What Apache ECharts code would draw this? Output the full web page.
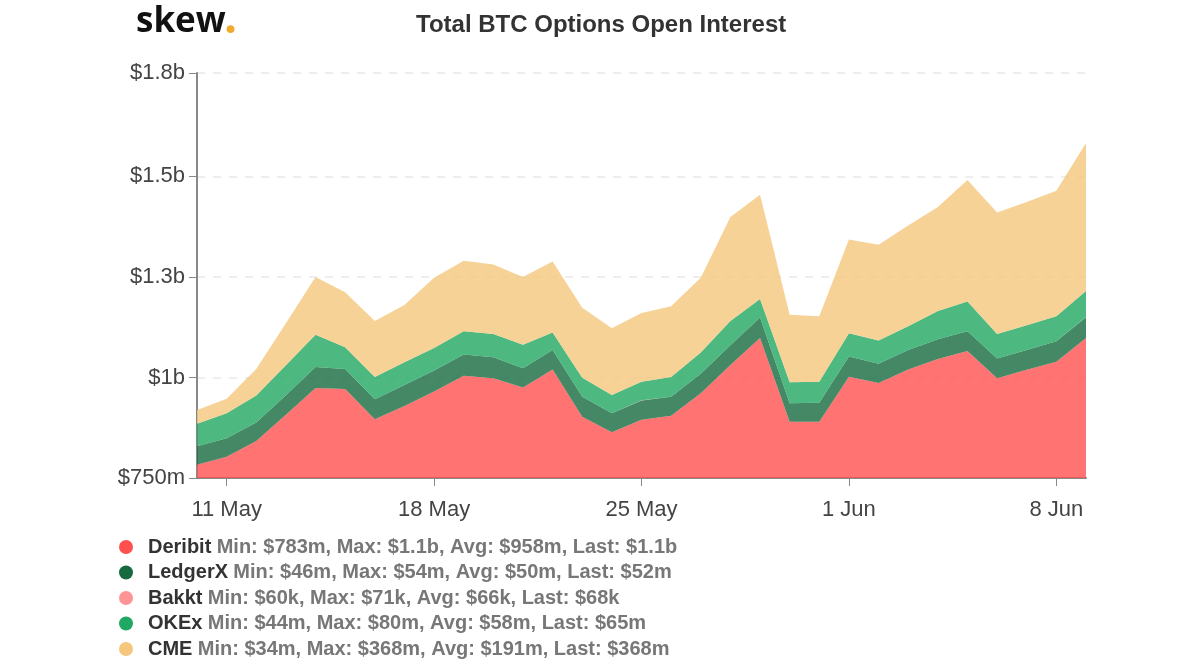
<!DOCTYPE html>
<html>
<head>
<meta charset="utf-8">
<title>Total BTC Options Open Interest</title>
<script src="https://cdn.jsdelivr.net/npm/echarts@6/dist/echarts.min.js"></script>
<style>
  html, body { margin: 0; padding: 0; background: #fff; }
  #main { width: 1200px; height: 670px; }
</style>
</head>
<body>
<div id="main"></div>
<script>
var days = ['10 May','11 May','12 May','13 May','14 May','15 May','16 May','17 May','18 May','19 May',
  '20 May','21 May','22 May','23 May','24 May','25 May','26 May','27 May','28 May','29 May',
  '30 May','31 May','1 Jun','2 Jun','3 Jun','4 Jun','5 Jun','6 Jun','7 Jun','8 Jun','9 Jun'];

// all in $m
var deribit = [783,803,842,907,974,971,896,929,965,1004,998,975,1020,902,864,895,905,961,1031,1098,890,890,1002,986,1020,1046,1066,998,1019,1039,1098];
var ledgerx = [46,46,46,49,52,50,50,52,52,53,52,48,48,50,47,48,47,48,49,51,46,47,50,48,48,49,49,49,49,51,52];
var bakkt = [0.06,0.06,0.061,0.062,0.064,0.063,0.064,0.065,0.066,0.067,0.066,0.065,0.066,0.064,0.063,0.065,0.066,0.067,0.069,0.071,0.066,0.066,0.068,0.067,0.068,0.069,0.07,0.067,0.067,0.068,0.068];
var okex = [56,62,67,74,80,54,55,57,56,58,58,58,44,47,45,46,49,53,60,46,52,52,58,58,59,70,74,61,62,62,65];
var cme = [34,36,66,105,144,137,139,142,175,175,173,169,176,174,166,171,176,186,259,259,168,163,233,238,251,259,302,302,306,312,368];

// the top of the axis sits a little above 1750, where the reference puts its last tick
var yTickValues = [750, 1000, 1250, 1500, 1757];
var yTickLabels = ['$750m', '$1b', '$1.3b', '$1.5b', '$1.8b'];

var legendStats = {
    'Deribit': 'Min: $783m, Max: $1.1b, Avg: $958m, Last: $1.1b',
    'LedgerX': 'Min: $46m, Max: $54m, Avg: $50m, Last: $52m',
    'Bakkt': 'Min: $60k, Max: $71k, Avg: $66k, Last: $68k',
    'OKEx': 'Min: $44m, Max: $80m, Avg: $58m, Last: $65m',
    'CME': 'Min: $34m, Max: $368m, Avg: $191m, Last: $368m'
};

var font = '"Liberation Sans", Arial, sans-serif';

function area(name, data, color) {
    return {
        name: name,
        type: 'line',
        stack: 'total',
        data: data,
        showSymbol: false,
        itemStyle: {color: color},
        lineStyle: {width: 0},
        areaStyle: {color: color, opacity: 0.8},
        animation: false
    };
}

// first of every week label, starting at 11 May
function weekly(index) {
    return (index - 1) % 7 === 0;
}

var myChart = echarts.init(document.getElementById('main'));

myChart.setOption({
    backgroundColor: '#fff',
    title: [{
        text: 'Total BTC Options Open Interest',
        left: 411,
        top: 8,
        textStyle: {fontFamily: font, fontSize: 24, fontWeight: 'bold', color: '#333'}
    }, {
        text: 'skew',
        left: 131,
        top: 0,
        textStyle: {fontFamily: '"Open Sans"', fontSize: 35, fontWeight: 'bold', color: '#111'}
    }, {
        text: '.',
        left: 219,
        top: -8,
        textStyle: {fontFamily: '"Open Sans"', fontSize: 46, fontWeight: 'bold', color: '#f0ab2e'}
    }],
    grid: {left: 197, right: 114, top: 73, bottom: 192},
    legend: {
        orient: 'vertical',
        left: 119,
        top: 537,
        padding: 0,
        icon: 'circle',
        itemWidth: 14,
        itemHeight: 14,
        itemGap: 5.5,
        selectedMode: false,
        formatter: function (name) {
            return '{g|}{n|' + name + '} {s|' + legendStats[name] + '}';
        },
        textStyle: {
            rich: {
                g: {width: 10},
                n: {fontFamily: font, fontSize: 20, fontWeight: 'bold', color: '#333', padding: [0, 2, 0, 0]},
                s: {fontFamily: font, fontSize: 20, fontWeight: 'bold', color: '#777'}
            }
        }
    },
    xAxis: {
        type: 'category',
        data: days,
        boundaryGap: false,
        axisLine: {lineStyle: {color: '#888', width: 2}},
        axisTick: {length: 8, interval: weekly, lineStyle: {color: '#888', width: 1}},
        axisLabel: {interval: weekly, margin: 21, fontFamily: font, fontSize: 22, color: '#444'},
        splitLine: {show: false}
    },
    yAxis: {
        type: 'value',
        min: yTickValues[0],
        max: yTickValues[yTickValues.length - 1],
        axisLine: {show: true, lineStyle: {color: '#888', width: 2}},
        axisTick: {show: true, length: 8, customValues: yTickValues, lineStyle: {color: '#888', width: 1}},
        axisLabel: {
            margin: 12,
            fontFamily: font,
            fontSize: 22,
            color: '#444',
            padding: [2, 0, 0, 0],
            customValues: yTickValues,
            formatter: function (v) { return yTickLabels[yTickValues.indexOf(v)]; }
        },
        splitLine: {lineStyle: {color: '#eee', width: 2, type: [8, 8]}}
    },
    series: [
        area('Deribit', deribit, '#ff5050'),
        area('LedgerX', ledgerx, '#156a3e'),
        area('Bakkt', bakkt, '#ff9396'),
        area('OKEx', okex, '#20a862'),
        area('CME', cme, '#f4c77d')
    ]
});
</script>
</body>
</html>
